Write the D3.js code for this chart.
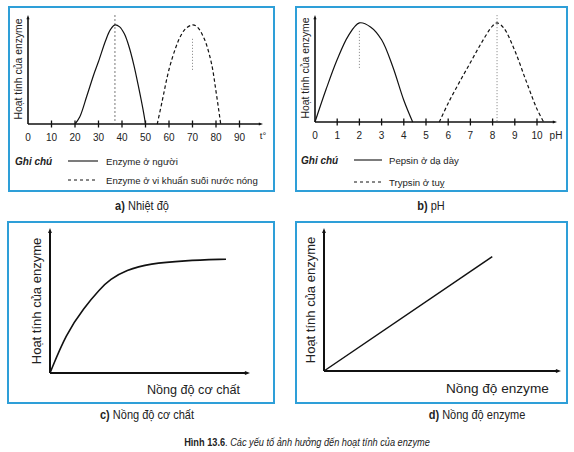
<!DOCTYPE html>
<html><head><meta charset="utf-8">
<script src="https://cdn.jsdelivr.net/npm/d3@7"></script>
<style>
body{margin:0;background:#fff;}
svg{display:block;}
.ax{font-family:"Liberation Sans",Arial,sans-serif;}
.cap{font-family:"Liberation Sans",Arial,sans-serif;}
</style></head>
<body>
<svg id="c" width="574" height="452"></svg>
<script>
// ---- data ----
const tempTicks = [0,10,20,30,40,50,60,70,80,90];
const humanEnzyme = [[20,0],[22,7],[25,28],[28,50],[30,63],[33,84],[35,95],[37,100],[39,98],[41,91],[43,78],[45,60],[47,38],[49,14],[50,0]];
const hotSpringEnzyme = [[55,0],[57,22],[60,55],[63,78],[65,89],[67,96],[70,100],[72,98],[75,86],[78,62],[80,33],[82,0]];
const phTicks = [0,1,2,3,4,5,6,7,8,9,10];
const pepsin = [[0,0],[0.5,33],[1,63],[1.5,87],[2,100],[2.5,96],[3,83],[3.5,56],[4,22],[4.4,0]];
const trypsin = [[5.6,0],[6,19],[6.5,40],[7,60],[7.5,80],[8,97],[8.2,100],[8.5,95],[9,72],[9.5,42],[10,13],[10.3,0]];
const substrateCurve = [[0,0],[0.8,2.7],[1.7,4.5],[2.5,5.8],[3,6.45],[3.8,7.1],[5,7.55],[6.7,7.75],[8.8,7.85]];
const enzymeLine = [[0,0],[7.1,8.0]];
const legendA = ["Enzyme ở người","Enzyme ở vi khuẩn suối nước nóng"];
const legendB = ["Pepsin ở dạ dày","Trypsin ở tuỵ"];
const yLabel = "Hoạt tính của enzyme";

const svg = d3.select("#c");
const frameColor = "#2e9fd8";

function frame(x0,y0,x1,y1){
  svg.append("rect").attr("x",x0).attr("y",y0).attr("width",x1-x0).attr("height",y1-y0)
    .attr("fill","none").attr("stroke",frameColor).attr("stroke-width",2);
}
function arrow(x,y,dir,size){
  const s=size||4;
  let p;
  if(dir==="up") p=[[x,y],[x-s*0.6,y+s*1.6],[x+s*0.6,y+s*1.6]];
  else p=[[x,y],[x-s*1.6,y-s*0.6],[x-s*1.6,y+s*0.6]];
  svg.append("path").attr("d","M"+p.map(d=>d.join(",")).join("L")+"Z").attr("fill","#111");
}
function axes(x0,yb,xend,ytop,w){
  svg.append("line").attr("x1",x0).attr("y1",yb).attr("x2",xend-3).attr("y2",yb).attr("stroke","#111").attr("stroke-width",w);
  svg.append("line").attr("x1",x0).attr("y1",yb).attr("x2",x0).attr("y2",ytop+3).attr("stroke","#111").attr("stroke-width",w);
  arrow(xend,yb,"right",w>1.8?3.2:2.6);
  arrow(x0,ytop,"up",w>1.8?3.2:2.6);
}
function ylab(x,yc,size){
  svg.append("text").attr("class","ax").attr("transform",`translate(${x},${yc}) rotate(-90)`)
    .attr("text-anchor","middle").attr("font-size",size).attr("fill","#222").text(yLabel);
}
function caption(cx,y,bold,rest,italic){
  const t=svg.append("text").attr("class","cap")
    .attr("transform",`translate(${cx},${y}) scale(${italic?0.78:0.86},1)`)
    .attr("text-anchor","middle").attr("font-size",italic?11.8:12.8).attr("fill","#222");
  t.append("tspan").attr("font-weight","bold").text(bold);
  if(italic){ t.append("tspan").text(". "); t.append("tspan").attr("font-style","italic").text(rest); }
  else t.append("tspan").text(" "+rest);
}
const smooth = d3.curveCatmullRom.alpha(0.5);

// ---------- Panel a ----------
frame(9,7,274,191);
{
  const x=d3.scaleLinear().domain([0,100]).range([28,263]);
  const y=d3.scaleLinear().domain([0,110]).range([124,15]);
  axes(x(0),y(0),263,15,1.6);
  tempTicks.slice(1).forEach(t=>{
    svg.append("line").attr("x1",x(t)).attr("x2",x(t)).attr("y1",y(0)-3.5).attr("y2",y(0)+3.5).attr("stroke","#111").attr("stroke-width",1.3);
  });
  tempTicks.forEach(t=>{
    svg.append("text").attr("class","ax").attr("x",x(t)).attr("y",141).attr("text-anchor","middle").attr("font-size",10).attr("fill","#222").text(t);
  });
  svg.append("text").attr("class","ax").attr("x",x(100)).attr("y",139).attr("text-anchor","middle").attr("font-size",9.5).attr("fill","#222").text("t°");
  svg.append("line").attr("x1",x(37)).attr("x2",x(37)).attr("y1",15).attr("y2",y(0)).attr("stroke","#555").attr("stroke-width",0.8).attr("stroke-dasharray","2,2");
  svg.append("line").attr("x1",x(70)).attr("x2",x(70)).attr("y1",y(86)).attr("y2",y(54)).attr("stroke","#777").attr("stroke-width",0.8).attr("stroke-dasharray","1.2,1.8");
  const ln=d3.line().x(d=>x(d[0])).y(d=>y(d[1])).curve(smooth);
  svg.append("path").attr("d",ln(humanEnzyme)).attr("fill","none").attr("stroke","#111").attr("stroke-width",1.2);
  svg.append("path").attr("d",ln(hotSpringEnzyme)).attr("fill","none").attr("stroke","#111").attr("stroke-width",1.2).attr("stroke-dasharray","3.5,2.5");
  ylab(22,69,10.4);
  svg.append("text").attr("class","ax").attr("x",15).attr("y",165).attr("font-size",10).attr("font-weight","bold").attr("font-style","italic").attr("fill","#222").text("Ghi chú");
  svg.append("line").attr("x1",68).attr("x2",98).attr("y1",161).attr("y2",161).attr("stroke","#111").attr("stroke-width",1.1);
  svg.append("line").attr("x1",68).attr("x2",98).attr("y1",180).attr("y2",180).attr("stroke","#111").attr("stroke-width",1).attr("stroke-dasharray","3,3");
  svg.append("text").attr("class","ax").attr("x",106).attr("y",165).attr("font-size",9.6).attr("fill","#222").text(legendA[0]);
  svg.append("text").attr("class","ax").attr("x",106).attr("y",184).attr("font-size",9.6).attr("fill","#222").text(legendA[1]);
}
caption(142,210,"a)","Nhiệt độ");

// ---------- Panel b ----------
frame(296,7,567,191);
{
  const x=d3.scaleLinear().domain([0,10]).range([315,537]);
  const y=d3.scaleLinear().domain([0,108]).range([122,15]);
  axes(x(0),y(0),557,15,1.6);
  phTicks.slice(1).forEach(t=>{
    svg.append("line").attr("x1",x(t)).attr("x2",x(t)).attr("y1",y(0)-3.5).attr("y2",y(0)+3.5).attr("stroke","#111").attr("stroke-width",1.3);
  });
  phTicks.forEach(t=>{
    svg.append("text").attr("class","ax").attr("x",x(t)).attr("y",139).attr("text-anchor","middle").attr("font-size",10).attr("fill","#222").text(t);
  });
  svg.append("text").attr("class","ax").attr("x",556).attr("y",139).attr("text-anchor","middle").attr("font-size",10).attr("fill","#222").text("pH");
  svg.append("line").attr("x1",x(2)).attr("x2",x(2)).attr("y1",y(92)).attr("y2",y(54)).attr("stroke","#777").attr("stroke-width",0.8).attr("stroke-dasharray","1.2,1.8");
  svg.append("line").attr("x1",x(8.2)).attr("x2",x(8.2)).attr("y1",15).attr("y2",y(0)).attr("stroke","#777").attr("stroke-width",0.8).attr("stroke-dasharray","1.2,1.8");
  const ln=d3.line().x(d=>x(d[0])).y(d=>y(d[1])).curve(smooth);
  svg.append("path").attr("d",ln(pepsin)).attr("fill","none").attr("stroke","#111").attr("stroke-width",1.2);
  svg.append("path").attr("d",ln(trypsin)).attr("fill","none").attr("stroke","#111").attr("stroke-width",1.2).attr("stroke-dasharray","3.5,2.5");
  ylab(309,68,10.4);
  svg.append("text").attr("class","ax").attr("x",301).attr("y",164).attr("font-size",10).attr("font-weight","bold").attr("font-style","italic").attr("fill","#222").text("Ghi chú");
  svg.append("line").attr("x1",354).attr("x2",382).attr("y1",160).attr("y2",160).attr("stroke","#111").attr("stroke-width",1.1);
  svg.append("line").attr("x1",354).attr("x2",382).attr("y1",182).attr("y2",182).attr("stroke","#111").attr("stroke-width",1).attr("stroke-dasharray","3,3");
  svg.append("text").attr("class","ax").attr("x",389).attr("y",164).attr("font-size",9.6).attr("fill","#222").text(legendB[0]);
  svg.append("text").attr("class","ax").attr("x",389).attr("y",186).attr("font-size",9.6).attr("fill","#222").text(legendB[1]);
}
caption(431,210,"b)","pH");

// ---------- Panel c ----------
frame(8,222,274,403);
{
  const x=d3.scaleLinear().domain([0,10]).range([50,250]);
  const y=d3.scaleLinear().domain([0,10]).range([373,228]);
  axes(x(0),y(0),250,228,2);
  const ln=d3.line().x(d=>x(d[0])).y(d=>y(d[1])).curve(d3.curveBasis);
  svg.append("path").attr("d",ln(substrateCurve)).attr("fill","none").attr("stroke","#111").attr("stroke-width",1.6);
  ylab(41,301,13);
  svg.append("text").attr("class","ax").attr("x",147).attr("y",394).attr("font-size",12.6).attr("fill","#222").text("Nồng độ cơ chất");
}
caption(147,419,"c)","Nồng độ cơ chất");

// ---------- Panel d ----------
frame(296,222,567,403);
{
  const x=d3.scaleLinear().domain([0,10]).range([324,561]);
  const y=d3.scaleLinear().domain([0,10]).range([371,228]);
  axes(x(0),y(0),561,228,2);
  const ln=d3.line().x(d=>x(d[0])).y(d=>y(d[1]));
  svg.append("path").attr("d",ln(enzymeLine)).attr("fill","none").attr("stroke","#111").attr("stroke-width",1.5);
  ylab(315,300,13);
  svg.append("text").attr("class","ax").attr("x",446).attr("y",393).attr("font-size",13.6).attr("fill","#222").text("Nồng độ enzyme");
}
caption(477,419,"d)","Nồng độ enzyme");

// ---------- Figure title ----------
caption(307,446,"Hình 13.6","Các yếu tố ảnh hưởng đến hoạt tính của enzyme",true);
</script>
</body></html>
